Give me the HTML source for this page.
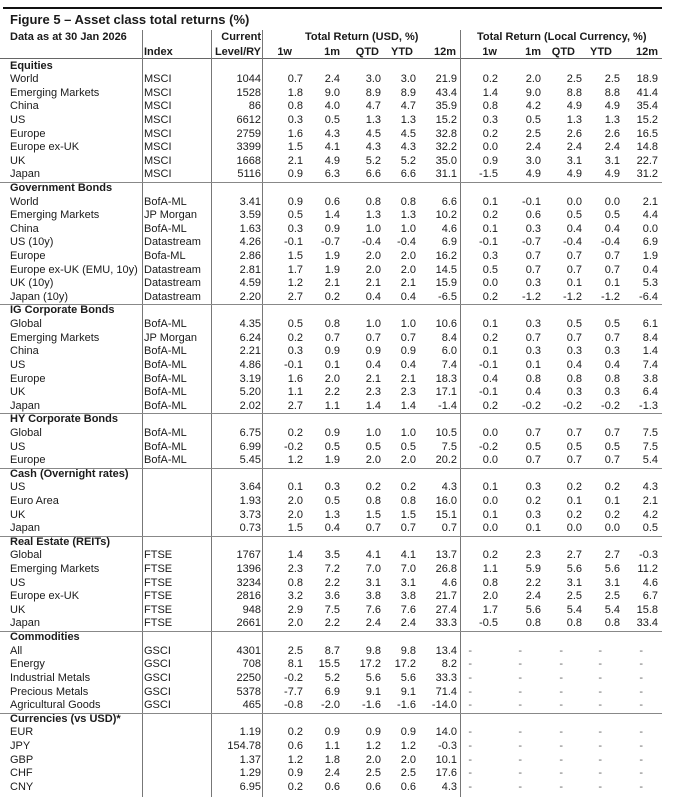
<!DOCTYPE html>
<html><head><meta charset="utf-8"><style>
*{margin:0;padding:0;box-sizing:border-box}
body{width:680px;height:800px;background:#fff;position:relative;overflow:hidden;font-family:"Liberation Sans",Arial,sans-serif;font-size:11px;color:#1a1a1a}
.t{position:absolute;white-space:nowrap}
.b{font-weight:bold}
#rows{position:absolute;left:0;top:59.5px;width:662px}
.r{display:grid;grid-template-columns:134px 67px 50px 42px 37px 41px 35px 41px 41px 43px 41px 38px 38px;padding-left:10px;height:13.62px;line-height:13.62px;white-space:nowrap}
.r span{text-align:right}
.r span:nth-child(1),.r span:nth-child(2){text-align:left}
.h{height:13.62px;line-height:13.62px;padding-left:10px;font-weight:bold;box-shadow:inset 0 1px #888}
.h0{box-shadow:none}
.d span:nth-child(9){padding-right:26px;color:#666}
.d span:nth-child(10){padding-right:19px;color:#666}
.d span:nth-child(11){padding-right:19px;color:#666}
.d span:nth-child(12){padding-right:18px;color:#666}
.d span:nth-child(13){padding-right:15px;color:#666}
</style></head><body>
<div style="position:absolute;left:3px;top:7px;width:659px;height:2px;background:#111"></div>
<div class="t b" style="left:10px;top:12px;font-size:13px;">Figure 5 – Asset class total returns (%)</div>
<div class="t b" style="left:10px;top:31px;">Data as at 30 Jan 2026</div>
<div class="t b" style="left:144px;top:46px;">Index</div>
<div class="t b" style="right:419px;top:31px;">Current</div>
<div class="t b" style="right:419px;top:46px;">Level/RY</div>
<div class="t b" style="left:305px;top:31px;">Total Return (USD, %)</div>
<div class="t b" style="left:477px;top:31px;">Total Return (Local Currency, %)</div>
<div class="t b" style="right:388px;top:46px;">1w</div>
<div class="t b" style="right:340px;top:46px;">1m</div>
<div class="t b" style="right:301px;top:46px;">QTD</div>
<div class="t b" style="right:267px;top:46px;">YTD</div>
<div class="t b" style="right:224px;top:46px;">12m</div>
<div class="t b" style="right:183px;top:46px;">1w</div>
<div class="t b" style="right:139px;top:46px;">1m</div>
<div class="t b" style="right:105px;top:46px;">QTD</div>
<div class="t b" style="right:68px;top:46px;">YTD</div>
<div class="t b" style="right:22px;top:46px;">12m</div>
<div style="position:absolute;left:0;top:58px;width:662px;height:1px;background:#666"></div>
<svg style="position:absolute;left:0;top:0" width="680" height="800"><g stroke="#777" stroke-width="1"><line x1="142.5" y1="30" x2="142.5" y2="797"/><line x1="211.5" y1="30" x2="211.5" y2="797"/><line x1="262.5" y1="30" x2="262.5" y2="797"/><line x1="460.5" y1="30" x2="460.5" y2="797"/></g></svg>
<div id="rows">
<div class="h h0">Equities</div>
<div class="r"><span>World</span><span>MSCI</span><span>1044</span><span>0.7</span><span>2.4</span><span>3.0</span><span>3.0</span><span>21.9</span><span>0.2</span><span>2.0</span><span>2.5</span><span>2.5</span><span>18.9</span></div>
<div class="r"><span>Emerging Markets</span><span>MSCI</span><span>1528</span><span>1.8</span><span>9.0</span><span>8.9</span><span>8.9</span><span>43.4</span><span>1.4</span><span>9.0</span><span>8.8</span><span>8.8</span><span>41.4</span></div>
<div class="r"><span>China</span><span>MSCI</span><span>86</span><span>0.8</span><span>4.0</span><span>4.7</span><span>4.7</span><span>35.9</span><span>0.8</span><span>4.2</span><span>4.9</span><span>4.9</span><span>35.4</span></div>
<div class="r"><span>US</span><span>MSCI</span><span>6612</span><span>0.3</span><span>0.5</span><span>1.3</span><span>1.3</span><span>15.2</span><span>0.3</span><span>0.5</span><span>1.3</span><span>1.3</span><span>15.2</span></div>
<div class="r"><span>Europe</span><span>MSCI</span><span>2759</span><span>1.6</span><span>4.3</span><span>4.5</span><span>4.5</span><span>32.8</span><span>0.2</span><span>2.5</span><span>2.6</span><span>2.6</span><span>16.5</span></div>
<div class="r"><span>Europe ex-UK</span><span>MSCI</span><span>3399</span><span>1.5</span><span>4.1</span><span>4.3</span><span>4.3</span><span>32.2</span><span>0.0</span><span>2.4</span><span>2.4</span><span>2.4</span><span>14.8</span></div>
<div class="r"><span>UK</span><span>MSCI</span><span>1668</span><span>2.1</span><span>4.9</span><span>5.2</span><span>5.2</span><span>35.0</span><span>0.9</span><span>3.0</span><span>3.1</span><span>3.1</span><span>22.7</span></div>
<div class="r"><span>Japan</span><span>MSCI</span><span>5116</span><span>0.9</span><span>6.3</span><span>6.6</span><span>6.6</span><span>31.1</span><span>-1.5</span><span>4.9</span><span>4.9</span><span>4.9</span><span>31.2</span></div>
<div class="h">Government Bonds</div>
<div class="r"><span>World</span><span>BofA-ML</span><span>3.41</span><span>0.9</span><span>0.6</span><span>0.8</span><span>0.8</span><span>6.6</span><span>0.1</span><span>-0.1</span><span>0.0</span><span>0.0</span><span>2.1</span></div>
<div class="r"><span>Emerging Markets</span><span>JP Morgan</span><span>3.59</span><span>0.5</span><span>1.4</span><span>1.3</span><span>1.3</span><span>10.2</span><span>0.2</span><span>0.6</span><span>0.5</span><span>0.5</span><span>4.4</span></div>
<div class="r"><span>China</span><span>BofA-ML</span><span>1.63</span><span>0.3</span><span>0.9</span><span>1.0</span><span>1.0</span><span>4.6</span><span>0.1</span><span>0.3</span><span>0.4</span><span>0.4</span><span>0.0</span></div>
<div class="r"><span>US (10y)</span><span>Datastream</span><span>4.26</span><span>-0.1</span><span>-0.7</span><span>-0.4</span><span>-0.4</span><span>6.9</span><span>-0.1</span><span>-0.7</span><span>-0.4</span><span>-0.4</span><span>6.9</span></div>
<div class="r"><span>Europe</span><span>Bofa-ML</span><span>2.86</span><span>1.5</span><span>1.9</span><span>2.0</span><span>2.0</span><span>16.2</span><span>0.3</span><span>0.7</span><span>0.7</span><span>0.7</span><span>1.9</span></div>
<div class="r"><span>Europe ex-UK (EMU, 10y)</span><span>Datastream</span><span>2.81</span><span>1.7</span><span>1.9</span><span>2.0</span><span>2.0</span><span>14.5</span><span>0.5</span><span>0.7</span><span>0.7</span><span>0.7</span><span>0.4</span></div>
<div class="r"><span>UK (10y)</span><span>Datastream</span><span>4.59</span><span>1.2</span><span>2.1</span><span>2.1</span><span>2.1</span><span>15.9</span><span>0.0</span><span>0.3</span><span>0.1</span><span>0.1</span><span>5.3</span></div>
<div class="r"><span>Japan (10y)</span><span>Datastream</span><span>2.20</span><span>2.7</span><span>0.2</span><span>0.4</span><span>0.4</span><span>-6.5</span><span>0.2</span><span>-1.2</span><span>-1.2</span><span>-1.2</span><span>-6.4</span></div>
<div class="h">IG Corporate Bonds</div>
<div class="r"><span>Global</span><span>BofA-ML</span><span>4.35</span><span>0.5</span><span>0.8</span><span>1.0</span><span>1.0</span><span>10.6</span><span>0.1</span><span>0.3</span><span>0.5</span><span>0.5</span><span>6.1</span></div>
<div class="r"><span>Emerging Markets</span><span>JP Morgan</span><span>6.24</span><span>0.2</span><span>0.7</span><span>0.7</span><span>0.7</span><span>8.4</span><span>0.2</span><span>0.7</span><span>0.7</span><span>0.7</span><span>8.4</span></div>
<div class="r"><span>China</span><span>BofA-ML</span><span>2.21</span><span>0.3</span><span>0.9</span><span>0.9</span><span>0.9</span><span>6.0</span><span>0.1</span><span>0.3</span><span>0.3</span><span>0.3</span><span>1.4</span></div>
<div class="r"><span>US</span><span>BofA-ML</span><span>4.86</span><span>-0.1</span><span>0.1</span><span>0.4</span><span>0.4</span><span>7.4</span><span>-0.1</span><span>0.1</span><span>0.4</span><span>0.4</span><span>7.4</span></div>
<div class="r"><span>Europe</span><span>BofA-ML</span><span>3.19</span><span>1.6</span><span>2.0</span><span>2.1</span><span>2.1</span><span>18.3</span><span>0.4</span><span>0.8</span><span>0.8</span><span>0.8</span><span>3.8</span></div>
<div class="r"><span>UK</span><span>BofA-ML</span><span>5.20</span><span>1.1</span><span>2.2</span><span>2.3</span><span>2.3</span><span>17.1</span><span>-0.1</span><span>0.4</span><span>0.3</span><span>0.3</span><span>6.4</span></div>
<div class="r"><span>Japan</span><span>BofA-ML</span><span>2.02</span><span>2.7</span><span>1.1</span><span>1.4</span><span>1.4</span><span>-1.4</span><span>0.2</span><span>-0.2</span><span>-0.2</span><span>-0.2</span><span>-1.3</span></div>
<div class="h">HY Corporate Bonds</div>
<div class="r"><span>Global</span><span>BofA-ML</span><span>6.75</span><span>0.2</span><span>0.9</span><span>1.0</span><span>1.0</span><span>10.5</span><span>0.0</span><span>0.7</span><span>0.7</span><span>0.7</span><span>7.5</span></div>
<div class="r"><span>US</span><span>BofA-ML</span><span>6.99</span><span>-0.2</span><span>0.5</span><span>0.5</span><span>0.5</span><span>7.5</span><span>-0.2</span><span>0.5</span><span>0.5</span><span>0.5</span><span>7.5</span></div>
<div class="r"><span>Europe</span><span>BofA-ML</span><span>5.45</span><span>1.2</span><span>1.9</span><span>2.0</span><span>2.0</span><span>20.2</span><span>0.0</span><span>0.7</span><span>0.7</span><span>0.7</span><span>5.4</span></div>
<div class="h">Cash (Overnight rates)</div>
<div class="r"><span>US</span><span></span><span>3.64</span><span>0.1</span><span>0.3</span><span>0.2</span><span>0.2</span><span>4.3</span><span>0.1</span><span>0.3</span><span>0.2</span><span>0.2</span><span>4.3</span></div>
<div class="r"><span>Euro Area</span><span></span><span>1.93</span><span>2.0</span><span>0.5</span><span>0.8</span><span>0.8</span><span>16.0</span><span>0.0</span><span>0.2</span><span>0.1</span><span>0.1</span><span>2.1</span></div>
<div class="r"><span>UK</span><span></span><span>3.73</span><span>2.0</span><span>1.3</span><span>1.5</span><span>1.5</span><span>15.1</span><span>0.1</span><span>0.3</span><span>0.2</span><span>0.2</span><span>4.2</span></div>
<div class="r"><span>Japan</span><span></span><span>0.73</span><span>1.5</span><span>0.4</span><span>0.7</span><span>0.7</span><span>0.7</span><span>0.0</span><span>0.1</span><span>0.0</span><span>0.0</span><span>0.5</span></div>
<div class="h">Real Estate (REITs)</div>
<div class="r"><span>Global</span><span>FTSE</span><span>1767</span><span>1.4</span><span>3.5</span><span>4.1</span><span>4.1</span><span>13.7</span><span>0.2</span><span>2.3</span><span>2.7</span><span>2.7</span><span>-0.3</span></div>
<div class="r"><span>Emerging Markets</span><span>FTSE</span><span>1396</span><span>2.3</span><span>7.2</span><span>7.0</span><span>7.0</span><span>26.8</span><span>1.1</span><span>5.9</span><span>5.6</span><span>5.6</span><span>11.2</span></div>
<div class="r"><span>US</span><span>FTSE</span><span>3234</span><span>0.8</span><span>2.2</span><span>3.1</span><span>3.1</span><span>4.6</span><span>0.8</span><span>2.2</span><span>3.1</span><span>3.1</span><span>4.6</span></div>
<div class="r"><span>Europe ex-UK</span><span>FTSE</span><span>2816</span><span>3.2</span><span>3.6</span><span>3.8</span><span>3.8</span><span>21.7</span><span>2.0</span><span>2.4</span><span>2.5</span><span>2.5</span><span>6.7</span></div>
<div class="r"><span>UK</span><span>FTSE</span><span>948</span><span>2.9</span><span>7.5</span><span>7.6</span><span>7.6</span><span>27.4</span><span>1.7</span><span>5.6</span><span>5.4</span><span>5.4</span><span>15.8</span></div>
<div class="r"><span>Japan</span><span>FTSE</span><span>2661</span><span>2.0</span><span>2.2</span><span>2.4</span><span>2.4</span><span>33.3</span><span>-0.5</span><span>0.8</span><span>0.8</span><span>0.8</span><span>33.4</span></div>
<div class="h">Commodities</div>
<div class="r d"><span>All</span><span>GSCI</span><span>4301</span><span>2.5</span><span>8.7</span><span>9.8</span><span>9.8</span><span>13.4</span><span>-</span><span>-</span><span>-</span><span>-</span><span>-</span></div>
<div class="r d"><span>Energy</span><span>GSCI</span><span>708</span><span>8.1</span><span>15.5</span><span>17.2</span><span>17.2</span><span>8.2</span><span>-</span><span>-</span><span>-</span><span>-</span><span>-</span></div>
<div class="r d"><span>Industrial Metals</span><span>GSCI</span><span>2250</span><span>-0.2</span><span>5.2</span><span>5.6</span><span>5.6</span><span>33.3</span><span>-</span><span>-</span><span>-</span><span>-</span><span>-</span></div>
<div class="r d"><span>Precious Metals</span><span>GSCI</span><span>5378</span><span>-7.7</span><span>6.9</span><span>9.1</span><span>9.1</span><span>71.4</span><span>-</span><span>-</span><span>-</span><span>-</span><span>-</span></div>
<div class="r d"><span>Agricultural Goods</span><span>GSCI</span><span>465</span><span>-0.8</span><span>-2.0</span><span>-1.6</span><span>-1.6</span><span>-14.0</span><span>-</span><span>-</span><span>-</span><span>-</span><span>-</span></div>
<div class="h">Currencies (vs USD)*</div>
<div class="r d"><span>EUR</span><span></span><span>1.19</span><span>0.2</span><span>0.9</span><span>0.9</span><span>0.9</span><span>14.0</span><span>-</span><span>-</span><span>-</span><span>-</span><span>-</span></div>
<div class="r d"><span>JPY</span><span></span><span>154.78</span><span>0.6</span><span>1.1</span><span>1.2</span><span>1.2</span><span>-0.3</span><span>-</span><span>-</span><span>-</span><span>-</span><span>-</span></div>
<div class="r d"><span>GBP</span><span></span><span>1.37</span><span>1.2</span><span>1.8</span><span>2.0</span><span>2.0</span><span>10.1</span><span>-</span><span>-</span><span>-</span><span>-</span><span>-</span></div>
<div class="r d"><span>CHF</span><span></span><span>1.29</span><span>0.9</span><span>2.4</span><span>2.5</span><span>2.5</span><span>17.6</span><span>-</span><span>-</span><span>-</span><span>-</span><span>-</span></div>
<div class="r d"><span>CNY</span><span></span><span>6.95</span><span>0.2</span><span>0.6</span><span>0.6</span><span>0.6</span><span>4.3</span><span>-</span><span>-</span><span>-</span><span>-</span><span>-</span></div>
</div>
</body></html>
